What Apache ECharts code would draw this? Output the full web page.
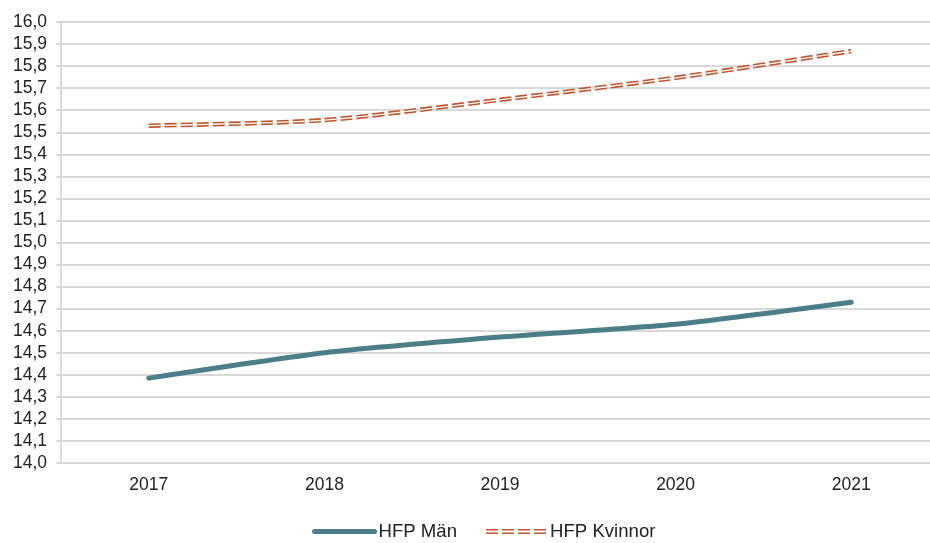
<!DOCTYPE html>
<html>
<head>
<meta charset="utf-8">
<script src="https://cdn.jsdelivr.net/npm/echarts@6/dist/echarts.min.js"></script>
<style>
html,body{margin:0;padding:0;background:#fff;}
#chart{width:930px;height:543px;}
</style>
</head>
<body>
<div id="chart"></div>
<script>
var years = ['2017', '2018', '2019', '2020', '2021'];
var hfpMan = [14.385, 14.50, 14.571, 14.629, 14.729];
var hfpKvinnor = [15.530, 15.555, 15.647, 15.747, 15.868];
var yMin = 14.0, yMax = 16.0, yStep = 0.1;

var chart = echarts.init(document.getElementById('chart'), null, {renderer: 'canvas'});
var font = 'Liberation Sans, Arial, sans-serif';
var dash = [12, 4];
var kvIcon = 'path://M0,0h12v1.6h-12z M16,0h12v1.6h-12z M32,0h12v1.6h-12z M48,0h12v1.6h-12z ' +
  'M0,3.6h12v1.6h-12z M16,3.6h12v1.6h-12z M32,3.6h12v1.6h-12z M48,3.6h12v1.6h-12z';
chart.setOption({
  animation: false,
  backgroundColor: '#ffffff',
  grid: {left: 61, top: 22, width: 878, height: 441, containLabel: false, outerBoundsMode: 'none'},
  legend: {
    left: 312, top: 522, padding: 0,
    itemWidth: 60, itemHeight: 18, itemGap: 29,
    data: [
      {name: 'HFP Män', itemStyle: {opacity: 0}, lineStyle: {width: 5, color: '#4a7e88', cap: 'round'}},
      {name: 'HFP Kvinnor', icon: kvIcon, itemStyle: {opacity: 1, color: '#c4552b', borderWidth: 0}}
    ],
    textStyle: {fontFamily: font, fontSize: 18.6, color: '#222', padding: [0, 0, 0, -1]}
  },
  xAxis: {
    type: 'category',
    data: years,
    boundaryGap: true,
    axisLine: {show: false},
    axisTick: {show: false},
    axisLabel: {fontFamily: font, fontSize: 17.5, color: '#222', margin: 13}
  },
  yAxis: {
    type: 'value',
    min: yMin, max: yMax, interval: yStep,
    axisLine: {show: true, lineStyle: {color: '#d9d9d9', width: 2}},
    axisTick: {show: true, length: 5, lineStyle: {color: '#d9d9d9', width: 2}},
    splitLine: {show: true, lineStyle: {color: '#d9d9d9', width: 2}},
    axisLabel: {
      fontFamily: font, fontSize: 17.5, color: '#222', margin: 14,
      formatter: function (v) { return v.toFixed(1).replace('.', ','); }
    }
  },
  series: [
    {
      name: 'HFP Män', type: 'line', data: hfpMan, smooth: 0.2,
      symbol: 'none', z: 3,
      lineStyle: {color: '#4a7e88', width: 5, cap: 'round'},
      itemStyle: {color: '#4a7e88'}
    },
    {
      name: 'HFP Kvinnor', type: 'line', data: hfpKvinnor, smooth: 0.25,
      symbol: 'none', z: 3,
      lineStyle: {color: '#c4552b', width: 4.5, type: dash},
      itemStyle: {color: '#c4552b'}
    },
    {
      name: 'Kvinnor inner', type: 'line', data: hfpKvinnor, smooth: 0.25,
      symbol: 'none', z: 4, silent: true,
      lineStyle: {color: '#ffffff', width: 1.3, type: dash}
    }
  ]
});
</script>
</body>
</html>
